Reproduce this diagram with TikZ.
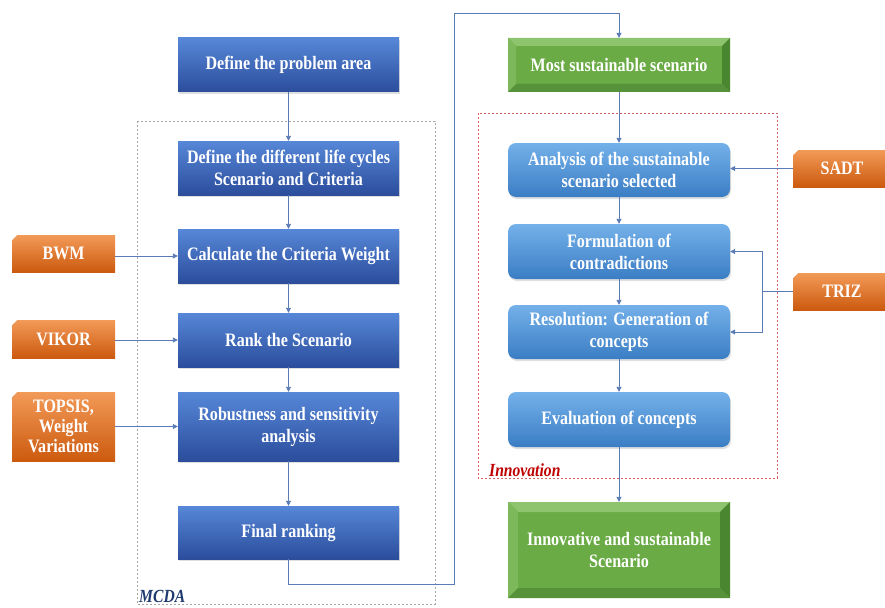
\documentclass[tikz,border=0pt]{standalone}
\usepackage{fontspec}
\setmainfont{Liberation Serif}[FakeStretch=0.845]
\usetikzlibrary{arrows.meta,shadows}
\definecolor{blTop}{HTML}{5787D8}
\definecolor{blBot}{HTML}{2B4D9C}
\definecolor{rbTop}{HTML}{74B1EA}
\definecolor{rbBot}{HTML}{3B7DC4}
\definecolor{orTop}{HTML}{F29A58}
\definecolor{orBot}{HTML}{CC5A0E}
\definecolor{grMid}{HTML}{6AAB45}
\definecolor{grTop}{HTML}{8FC46E}
\definecolor{grLeft}{HTML}{7DB95A}
\definecolor{grRight}{HTML}{4A8530}
\definecolor{grBot}{HTML}{56923A}
\definecolor{lineCol}{HTML}{5A7BB6}
\definecolor{mcdaCol}{HTML}{1F3A6E}
\definecolor{innCol}{HTML}{C00000}
\definecolor{innBox}{HTML}{D0625F}
\begin{document}
\begin{tikzpicture}[x=1pt,y=-1pt,
  every node/.style={font=\bfseries\fontsize{19}{22}\selectfont, align=center, inner sep=2pt},
  bluebox/.style={rectangle, top color=blTop, bottom color=blBot, text=white,
    minimum width=221pt, drop shadow={opacity=0.25,shadow xshift=1pt,shadow yshift=-2pt}},
  rbox/.style={rectangle, rounded corners=8pt, top color=rbTop, bottom color=rbBot, text=white,
    minimum width=222pt, drop shadow={opacity=0.25,shadow xshift=1pt,shadow yshift=-2pt}},
  orbox/.style={rectangle, top color=orTop, bottom color=orBot, text=white, minimum width=103pt,
    path picture={
      \fill[white] (path picture bounding box.north west) -- ([xshift=5pt]path picture bounding box.north west)
        -- ([yshift=-5pt]path picture bounding box.north west) -- cycle;
    }},
  greenbox/.style={rectangle, fill=grMid, text=white, minimum width=222pt,
    path picture={
      \fill[grTop] (path picture bounding box.north west) -- (path picture bounding box.north east)
        -- ([shift={(-#1,-#1)}]path picture bounding box.north east)
        -- ([shift={(#1,-#1)}]path picture bounding box.north west) -- cycle;
      \fill[grLeft] (path picture bounding box.north west) -- (path picture bounding box.south west)
        -- ([shift={(#1,#1)}]path picture bounding box.south west)
        -- ([shift={(#1,-#1)}]path picture bounding box.north west) -- cycle;
      \fill[grRight] (path picture bounding box.north east) -- (path picture bounding box.south east)
        -- ([shift={(-#1,#1)}]path picture bounding box.south east)
        -- ([shift={(-#1,-#1)}]path picture bounding box.north east) -- cycle;
      \fill[grBot] (path picture bounding box.south west) -- (path picture bounding box.south east)
        -- ([shift={(-#1,#1)}]path picture bounding box.south east)
        -- ([shift={(#1,#1)}]path picture bounding box.south west) -- cycle;
    }},
  conn/.style={draw=lineCol, line width=0.9pt},
  arr/.style={conn, -{Triangle[length=5pt,width=5pt]}}
]
\useasboundingbox (0,0) rectangle (885,607);
\fill[white] (0,0) rectangle (885,607);

% group frames
\draw[gray!70, line width=0.6pt, dash pattern=on 2pt off 2pt] (137,121) rectangle (435,604);
\draw[innBox, line width=0.6pt, dash pattern=on 2pt off 2pt] (478,113) rectangle (777,478);
\node[anchor=base west, inner sep=0, text=mcdaCol, font=\bfseries\itshape\fontsize{18.5}{18}\selectfont] (mcdalbl) at (139,602.5) {MCDA};
\node[anchor=base west, inner sep=0, text=innCol, font=\bfseries\itshape\fontsize{18.5}{18}\selectfont] (innlbl) at (489,476) {Innovation};

% left column
\node[bluebox, minimum height=54pt] (prob) at (288.5,65) {Define the problem area};
\node[bluebox, minimum height=54pt] (life) at (288.5,168) {Define the different life cycles\\Scenario and Criteria};
\node[bluebox, minimum height=54pt] (calc) at (288.5,256) {Calculate the Criteria Weight};
\node[bluebox, minimum height=54pt] (rank) at (288.5,340) {Rank the Scenario};
\node[bluebox, minimum height=69pt] (rob) at (288.5,426.5) {Robustness and sensitivity\\analysis};
\node[bluebox, minimum height=53pt] (final) at (288.5,532.5) {Final ranking};

% left tools
\node[orbox, minimum height=37pt] (bwm) at (63.5,253.5) {BWM};
\node[orbox, minimum height=38pt] (vikor) at (63.5,339) {VIKOR};
\node[orbox, minimum height=69pt, font=\bfseries\fontsize{19}{20}\selectfont] (topsis) at (63.5,426.5) {TOPSIS,\\Weight\\Variations};

% right column
\node[greenbox=8pt, minimum height=54pt] (most) at (619,65) {Most sustainable scenario};
\node[rbox, minimum height=54pt] (ana) at (619,170) {Analysis of the sustainable\\scenario selected};
\node[rbox, minimum height=55pt] (form) at (619,251.5) {Formulation of\\contradictions};
\node[rbox, minimum height=54pt] (reso) at (619,332) {Resolution: Generation of\\concepts};
\node[rbox, minimum height=55pt] (eval) at (619,419.5) {Evaluation of concepts};
\node[greenbox=10pt, minimum height=96pt] (innov) at (619,550) {Innovative and sustainable\\Scenario};

% right tools
\node[orbox, minimum width=102pt, minimum height=37pt] (sadt) at (844,168.5) {SADT\hspace*{4pt}};
\node[orbox, minimum width=102pt, minimum height=37pt] (triz) at (844,291.5) {TRIZ\hspace*{4pt}};

% connectors left
\draw[arr] (prob) -- (life);
\draw[arr] (life) -- (calc);
\draw[arr] (calc) -- (rank);
\draw[arr] (rank) -- (rob);
\draw[arr] (rob) -- (final);
\draw[arr] (bwm.east |- calc.west) -- (calc.west);
\draw[arr] (vikor.east |- rank.west) -- (rank.west);
\draw[arr] (topsis.east) -- (rob.west);

% bridge
\coordinate (b1) at (454,584);
\coordinate (b2) at (454,13);
\draw[arr] (final.south) |- (b1) -- (b2) -| (most.north);

% connectors right
\draw[arr] (most) -- (ana);
\draw[arr] (ana) -- (form);
\draw[arr] (form) -- (reso);
\draw[arr] (reso) -- (eval);
\draw[arr] (eval) -- (innov);
\draw[arr] (sadt.west) -- (ana.east |- sadt.west);
\coordinate (tj) at (762,291.5);
\draw[conn] (triz.west) -- (tj);
\draw[arr] (tj) |- (form.east);
\draw[arr] (tj) |- (reso.east);
\end{tikzpicture}
\end{document}
